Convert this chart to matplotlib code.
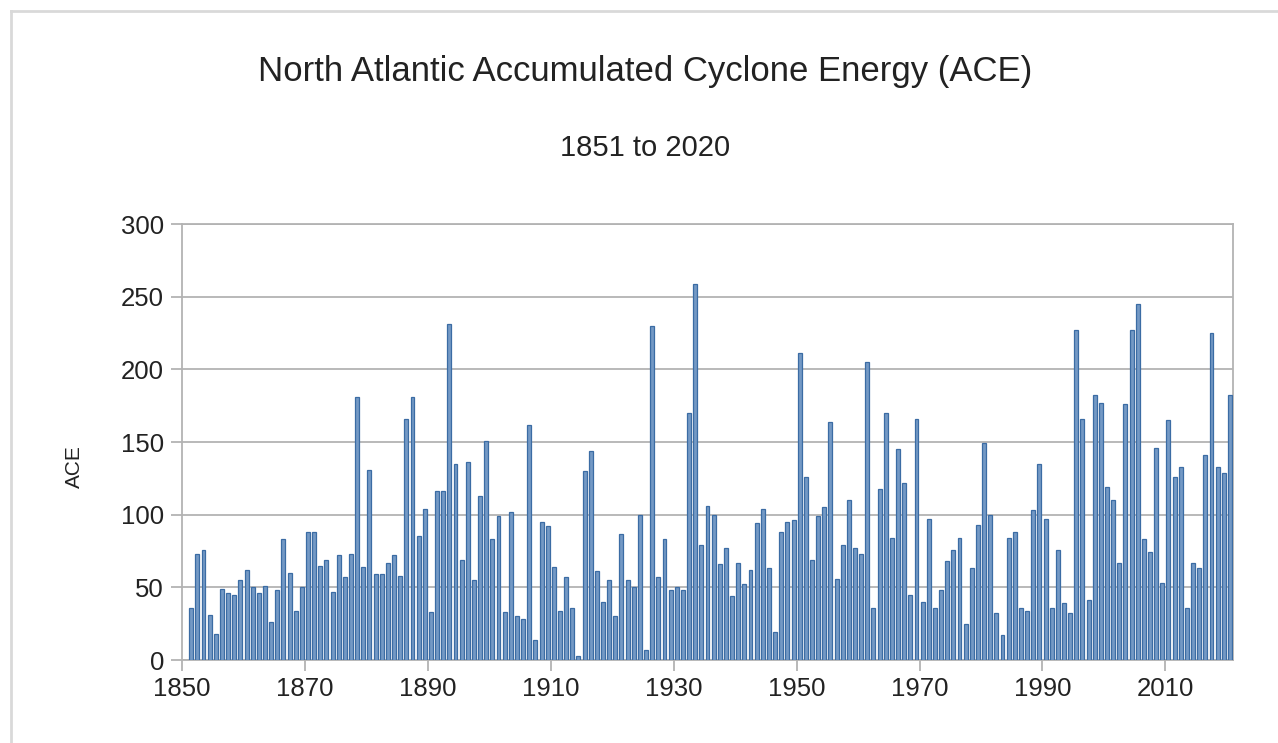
import numpy as np
import matplotlib
matplotlib.use("Agg")
import matplotlib.pyplot as plt
from matplotlib.lines import Line2D

# North Atlantic ACE by season, 1851-2020
years = list(range(1851, 2021))
ace = [
    36, 73, 76, 31, 18, 49, 46, 45, 55, 62,      # 1851-1860
    50, 46, 51, 26, 48, 83, 60, 34, 50, 88,      # 1861-1870
    88, 65, 69, 47, 72, 57, 73, 181, 64, 131,    # 1871-1880
    59, 59, 67, 72, 58, 166, 181, 85, 104, 33,   # 1881-1890
    116, 116, 231, 135, 69, 136, 55, 113, 151, 83,  # 1891-1900
    99, 33, 102, 30, 28, 162, 14, 95, 92, 64,    # 1901-1910
    34, 57, 36, 3, 130, 144, 61, 40, 55, 30,     # 1911-1920
    87, 55, 50, 100, 7, 230, 57, 83, 48, 50,     # 1921-1930
    48, 170, 259, 79, 106, 100, 66, 77, 44, 67,  # 1931-1940
    52, 62, 94, 104, 63, 19, 88, 95, 96, 211,    # 1941-1950
    126, 69, 99, 105, 164, 56, 79, 110, 77, 73,  # 1951-1960
    205, 36, 118, 170, 84, 145, 122, 45, 166, 40,  # 1961-1970
    97, 36, 48, 68, 76, 84, 25, 63, 93, 149,     # 1971-1980
    100, 32, 17, 84, 88, 36, 34, 103, 135, 97,   # 1981-1990
    36, 76, 39, 32, 227, 166, 41, 182, 177, 119,  # 1991-2000
    110, 67, 176, 227, 245, 83, 74, 146, 53, 165,  # 2001-2010
    126, 133, 36, 67, 63, 141, 225, 133, 129, 182,  # 2011-2020
]
xticks = [1850, 1870, 1890, 1910, 1930, 1950, 1970, 1990, 2010]
yticks = [0, 50, 100, 150, 200, 250, 300]

plt.rcParams['font.family'] = ['Liberation Sans', 'DejaVu Sans']

fig = plt.figure(figsize=(12.78, 7.43), dpi=100)
ax = fig.add_axes([182 / 1278, 1 - 660 / 743, (1233 - 182) / 1278, (660 - 224) / 743])

# thin frame around the whole picture
fig.add_artist(Line2D([11 / 1278, 1], [1 - 11 / 743, 1 - 11 / 743], color='#d9d9d9', lw=2))
fig.add_artist(Line2D([11 / 1278, 11 / 1278], [0, 1 - 11 / 743], color='#d9d9d9', lw=2))

x = np.array(years) + 0.5
ax.bar(x, ace, width=0.64, color='#7499c5', edgecolor='#3b6ca4', linewidth=0.9, zorder=3)

ax.set_xlim(1850, 2021)
ax.set_ylim(0, 300)
ax.set_xticks(xticks)
ax.set_yticks(yticks)
ax.grid(axis='y', color='#b3b3b3', linewidth=1.3, zorder=0)
for s in ['left', 'bottom', 'right', 'top']:
    ax.spines[s].set_color('#b3b3b3')
    ax.spines[s].set_linewidth(1.3)
ax.tick_params(axis='both', direction='out', length=8, width=1.3, color='#b3b3b3',
               labelsize=18.5, labelcolor='#222222')
ax.tick_params(axis='x', pad=4)
ax.tick_params(axis='y', pad=5)

ax.set_ylabel('ACE', fontsize=15, color='#222222')
ax.yaxis.set_label_coords((84 - 182) / 1051, (660 - 467) / 436)

fig.text(645 / 1278, 1 - 72 / 743, 'North Atlantic Accumulated Cyclone Energy (ACE)',
         ha='center', va='center', fontsize=25, color='#222222')
fig.text(645 / 1278, 1 - 148 / 743, '1851 to 2020', ha='center', va='center',
         fontsize=21, color='#222222')

fig.savefig('out.png', dpi=100)
